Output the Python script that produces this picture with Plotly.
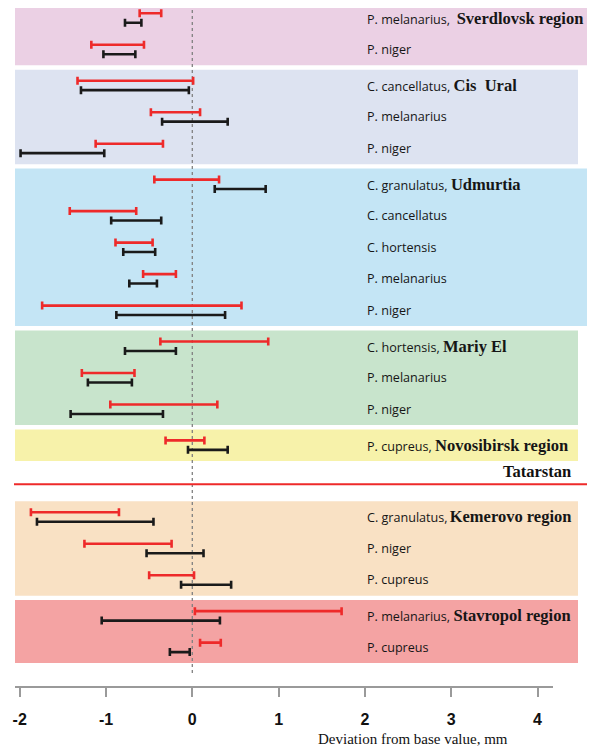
import plotly.graph_objects as go

# regions (panels) in top-to-bottom order; Tatarstan has no rows of its own
regions = ["Sverdlovsk region", "Cis\u00a0 Ural", "Udmurtia", "Mariy El",
           "Novosibirsk region", "Tatarstan", "Kemerovo region", "Stavropol region"]

species = [
  ["P. melanarius", "P. niger"],
  ["C. cancellatus", "P. melanarius", "P. niger"],
  ["C. granulatus", "C. cancellatus", "C. hortensis", "P. melanarius", "P. niger"],
  ["C. hortensis", "P. melanarius", "P. niger"],
  ["P. cupreus"],
  [],
  ["C. granulatus", "P. niger", "P. cupreus"],
  ["P. melanarius", "P. cupreus"],
]

# deviation intervals, mm (one value per species row, top to bottom)
red_low = [-0.61, -1.17, -1.33, -0.48, -1.12, -0.44, -1.42, -0.89, -0.57, -1.74,
           -0.37, -1.28, -0.95, -0.31, -1.87, -1.25, -0.50, 0.03, 0.09]
red_high = [-0.36, -0.56, 0.01, 0.09, -0.34, 0.31, -0.65, -0.46, -0.19, 0.57,
            0.88, -0.67, 0.29, 0.14, -0.85, -0.24, 0.02, 1.73, 0.33]
black_low = [-0.78, -1.03, -1.29, -0.35, -1.99, 0.26, -0.94, -0.80, -0.73, -0.88,
             -0.78, -1.21, -1.41, -0.05, -1.80, -0.53, -0.13, -1.05, -0.26]
black_high = [-0.59, -0.66, -0.04, 0.41, -1.02, 0.85, -0.36, -0.43, -0.41, 0.38,
              -0.19, -0.70, -0.34, 0.41, -0.45, 0.13, 0.45, 0.32, -0.03]

tick_vals = [-2, -1, 0, 1, 2, 3, 4]
tick_text = ["-2", "-1", "0", "1", "2", "3", "4"]

# panel styling
panel_colors = ["#ebd0e4", "#dde3f1", "#c4e5f5", "#c8e4cc", "#f7f2aa", None, "#f9e1c4", "#f4a3a3"]
panel_right = [587, 578, 593, 578, 578, None, 578, 578]
NB = "\u00a0"
label_sep = ["," + NB + NB, "," + NB, "," + NB, "," + NB, "," + NB, "", ",\u2009", "," + NB]

# the page body keeps its default 8px margin, so the figure is 8px smaller
PAGE_W, PAGE_H = 595, 748
PAD = 8
W, H = PAGE_W - PAD, PAGE_H - PAD
RED = "#ee2a2a"
BLACK = "#1a1a1a"
SERIF = "Liberation Serif"
SANS = "Open Sans"


def px(v):
  # page pixel -> figure paper fraction (x)
  return (v - PAD) / W


# layout the rows: one slot per species, a small gap between regions,
# Tatarstan takes an empty slot
group_gap = 0.14
row_y = []
group_rows = []
slot = 0
for g, sp in enumerate(species):
  n = max(len(sp), 1)
  rows = [slot + k + group_gap * g for k in range(n)]
  group_rows.append(rows)
  if sp:
    row_y += rows
  slot += n

off = 0.15
red_c = [(a + b) / 2 for a, b in zip(red_low, red_high)]
red_e = [(b - a) / 2 for a, b in zip(red_low, red_high)]
blk_c = [(a + b) / 2 for a, b in zip(black_low, black_high)]
blk_e = [(b - a) / 2 for a, b in zip(black_low, black_high)]

fig = go.Figure()

fig.add_trace(go.Scatter(
  x=red_c, y=[r - off for r in row_y], mode="markers",
  marker=dict(size=1, color="rgba(0,0,0,0)"),
  error_x=dict(type="data", array=red_e, color=RED, thickness=2.6, width=4),
  hoverinfo="skip", showlegend=False
))
fig.add_trace(go.Scatter(
  x=blk_c, y=[r + off for r in row_y], mode="markers",
  marker=dict(size=1, color="rgba(0,0,0,0)"),
  error_x=dict(type="data", array=blk_e, color=BLACK, thickness=2.6, width=4),
  hoverinfo="skip", showlegend=False
))

px_per_unit = 86.3
zero_px = 192.3 - PAD
x_range = [-zero_px / px_per_unit, (W - zero_px) / px_per_unit]
plot_h = 687 - PAD
row_px = 31.5
row0 = 18 - PAD
y_top = -row0 / row_px
y_bot = (plot_h - row0) / row_px

shapes = []
annotations = []
for g, reg in enumerate(regions):
  rows = group_rows[g]
  if panel_colors[g]:
    shapes.append(dict(
      type="rect", layer="below", xref="paper", yref="y",
      x0=px(15), x1=px(panel_right[g]),
      y0=rows[0] - 0.5, y1=rows[-1] + 0.5,
      fillcolor=panel_colors[g], line=dict(width=0)
    ))
  region_html = ("<span style=\"font-family:'%s';font-size:16.5px;font-weight:bold\">%s</span>"
                 % (SERIF, reg))
  if species[g]:
    for k, sp in enumerate(species[g]):
      txt = sp
      if k == 0:
        txt = sp + label_sep[g] + region_html
      annotations.append(dict(
        x=2.0, y=rows[k], xref="x", yref="y", text=txt, showarrow=False,
        xanchor="left", yanchor="middle",
        font=dict(family=SANS, size=12.6, color="#161616")
      ))
  else:
    # Tatarstan: label above a red separator line
    annotations.append(dict(
      x=px(573), y=rows[0] - 0.3, xref="paper", yref="y", text=region_html,
      showarrow=False, xanchor="right", yanchor="middle",
      font=dict(color="#111")
    ))
    shapes.append(dict(
      type="line", xref="paper", yref="y", x0=px(14), x1=px(590),
      y0=rows[0] + 0.1, y1=rows[0] + 0.1, line=dict(color=RED, width=2)
    ))

# zero reference line
shapes.append(dict(
  type="line", layer="below", xref="x", yref="paper", x0=0, x1=0,
  y0=(687 - 673) / plot_h, y1=1, line=dict(color="#808080", width=1.3, dash="dot")
))
# axis line
shapes.append(dict(
  type="line", xref="paper", yref="paper", x0=px(15), x1=px(553), y0=0, y1=0,
  line=dict(color="#9a9a9a", width=2)
))

annotations.append(dict(
  x=px(413), y=-(739 - 687) / plot_h, xref="paper", yref="paper",
  text="Deviation from base value, mm", showarrow=False,
  xanchor="center", yanchor="middle",
  font=dict(family=SERIF, size=15, color="#111")
))

fig.update_layout(
  width=W, height=H,
  margin=dict(l=0, r=0, t=0, b=H - plot_h),
  paper_bgcolor="white", plot_bgcolor="white",
  shapes=shapes, annotations=annotations,
  xaxis=dict(
    range=x_range, showgrid=False, zeroline=False, showline=False,
    tickmode="array", tickvals=tick_vals, ticktext=tick_text,
    ticks="outside", ticklen=9, tickwidth=1.5, tickcolor="#9a9a9a",
    ticklabelstandoff=9,
    tickfont=dict(family="Liberation Sans", size=16, color="#111", weight="bold"),
    fixedrange=True
  ),
  yaxis=dict(
    range=[y_bot, y_top], showgrid=False, zeroline=False, showline=False,
    showticklabels=False, ticks="", fixedrange=True
  ),
)

fig.write_html("out.html")
